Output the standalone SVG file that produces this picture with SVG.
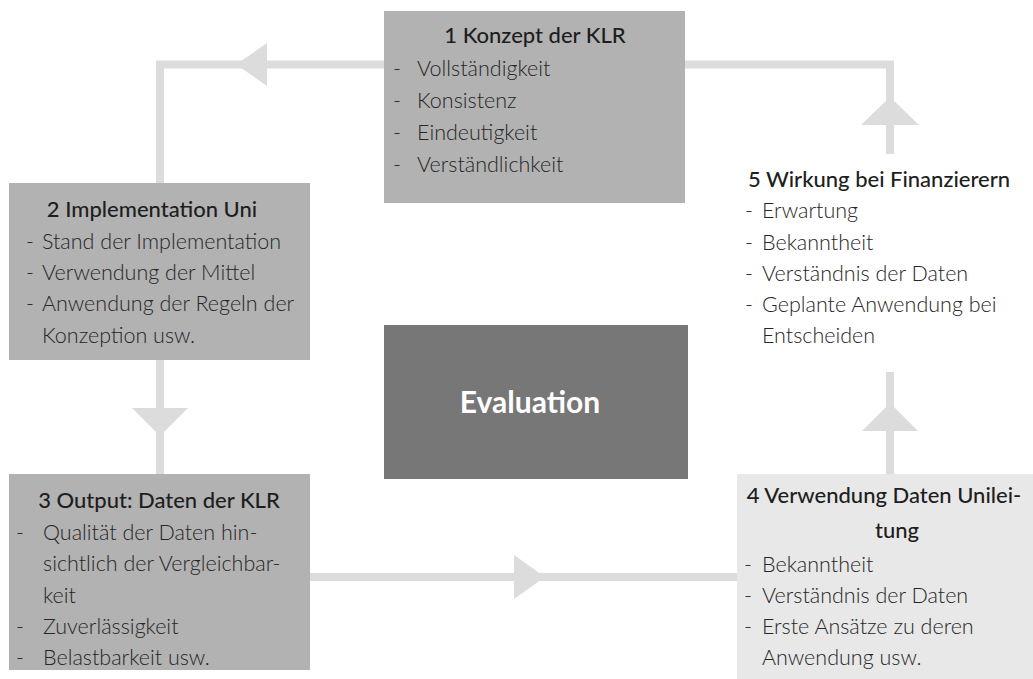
<svg xmlns="http://www.w3.org/2000/svg" width="1033" height="679" viewBox="0 0 1033 679">
  <style>
    .box { fill: #b2b2b2; }
    .box-light { fill: #e8e8e8; }
    .box-core { fill: #777777; }
    .title { font-family: Lato, "Liberation Sans", sans-serif; font-size: 22px; font-weight: 500; fill: #1e1e1e; text-anchor: middle; }
    .item { font-family: Lato, "Liberation Sans", sans-serif; font-size: 21.5px; font-weight: 300; fill: #262626; }
    .core { font-family: Lato, "Liberation Sans", sans-serif; font-size: 30px; font-weight: 700; fill: #ffffff; text-anchor: middle; }
    .wire { fill: none; stroke: #dcdcdc; stroke-width: 8; }
    .head { fill: #dcdcdc; }
  </style>

  <!-- connectors: cycle 1 -> 2 -> 3 -> 4 -> 5 -> 1 -->
  <g id="connectors">
    <polyline class="wire" points="384,64.5 160,64.5 160,183"/>
    <polygon class="head" points="236,64.5 267,43 267,86"/>

    <polyline class="wire" points="160,360 160,474"/>
    <polygon class="head" points="132,408 188,408 160,436"/>

    <polyline class="wire" points="310,577 737,577"/>
    <polygon class="head" points="514,555 514,599 545,577"/>

    <polyline class="wire" points="890,474 890,372"/>
    <polygon class="head" points="890,403 862,431 918,431"/>

    <polyline class="wire" points="890,154 890,64.5 685,64.5"/>
    <polygon class="head" points="890,97 861,125 919,125"/>
  </g>

  <!-- 1 Konzept -->
  <g id="node-1">
    <rect class="box" x="384" y="11" width="301" height="192"/>
    <text class="title" x="535" y="43">1 Konzept der KLR</text>
    <text class="item" x="393" y="76">-</text><text class="item" x="417" y="76">Vollständigkeit</text>
    <text class="item" x="393" y="108">-</text><text class="item" x="417" y="108">Konsistenz</text>
    <text class="item" x="393" y="140">-</text><text class="item" x="417" y="140">Eindeutigkeit</text>
    <text class="item" x="393" y="172">-</text><text class="item" x="417" y="172">Verständlichkeit</text>
  </g>

  <!-- 2 Implementation -->
  <g id="node-2">
    <rect class="box" x="9" y="183" width="301" height="177"/>
    <text class="title" x="152" y="217">2 Implementation Uni</text>
    <text class="item" x="26" y="249">-</text><text class="item" x="42" y="249">Stand der Implementation</text>
    <text class="item" x="26" y="280">-</text><text class="item" x="42" y="280">Verwendung der Mittel</text>
    <text class="item" x="26" y="311">-</text><text class="item" x="42" y="311">Anwendung der Regeln der</text>
    <text class="item" x="42" y="343">Konzeption usw.</text>
  </g>

  <!-- 3 Output -->
  <g id="node-3">
    <rect class="box" x="9" y="474" width="301" height="196"/>
    <text class="title" x="159" y="508">3 Output: Daten der KLR</text>
    <text class="item" x="16" y="540">-</text><text class="item" x="43" y="540">Qualität der Daten hin-</text>
    <text class="item" x="43" y="571">sichtlich der Vergleichbar-</text>
    <text class="item" x="43" y="603">keit</text>
    <text class="item" x="16" y="634">-</text><text class="item" x="43" y="634">Zuverlässigkeit</text>
    <text class="item" x="16" y="665">-</text><text class="item" x="43" y="665">Belastbarkeit usw.</text>
  </g>

  <!-- 4 Verwendung -->
  <g id="node-4">
    <rect class="box-light" x="737" y="474" width="296" height="205"/>
    <text class="title" x="884" y="503">4 Verwendung Daten Unilei-</text>
    <text class="title" x="897" y="538">tung</text>
    <text class="item" x="744" y="572">-</text><text class="item" x="762" y="572">Bekanntheit</text>
    <text class="item" x="744" y="603">-</text><text class="item" x="762" y="603">Verständnis der Daten</text>
    <text class="item" x="744" y="634">-</text><text class="item" x="762" y="634">Erste Ansätze zu deren</text>
    <text class="item" x="762" y="665">Anwendung usw.</text>
  </g>

  <!-- 5 Wirkung -->
  <g id="node-5">
    <text class="title" x="879" y="187">5 Wirkung bei Finanzierern</text>
    <text class="item" x="745" y="218">-</text><text class="item" x="762" y="218">Erwartung</text>
    <text class="item" x="745" y="250">-</text><text class="item" x="762" y="250">Bekanntheit</text>
    <text class="item" x="745" y="281">-</text><text class="item" x="762" y="281">Verständnis der Daten</text>
    <text class="item" x="745" y="312">-</text><text class="item" x="762" y="312">Geplante Anwendung bei</text>
    <text class="item" x="762" y="343">Entscheiden</text>
  </g>

  <!-- centre -->
  <g id="node-evaluation">
    <rect class="box-core" x="384" y="325" width="304" height="154"/>
    <text class="core" x="530" y="413">Evaluation</text>
  </g>
</svg>
